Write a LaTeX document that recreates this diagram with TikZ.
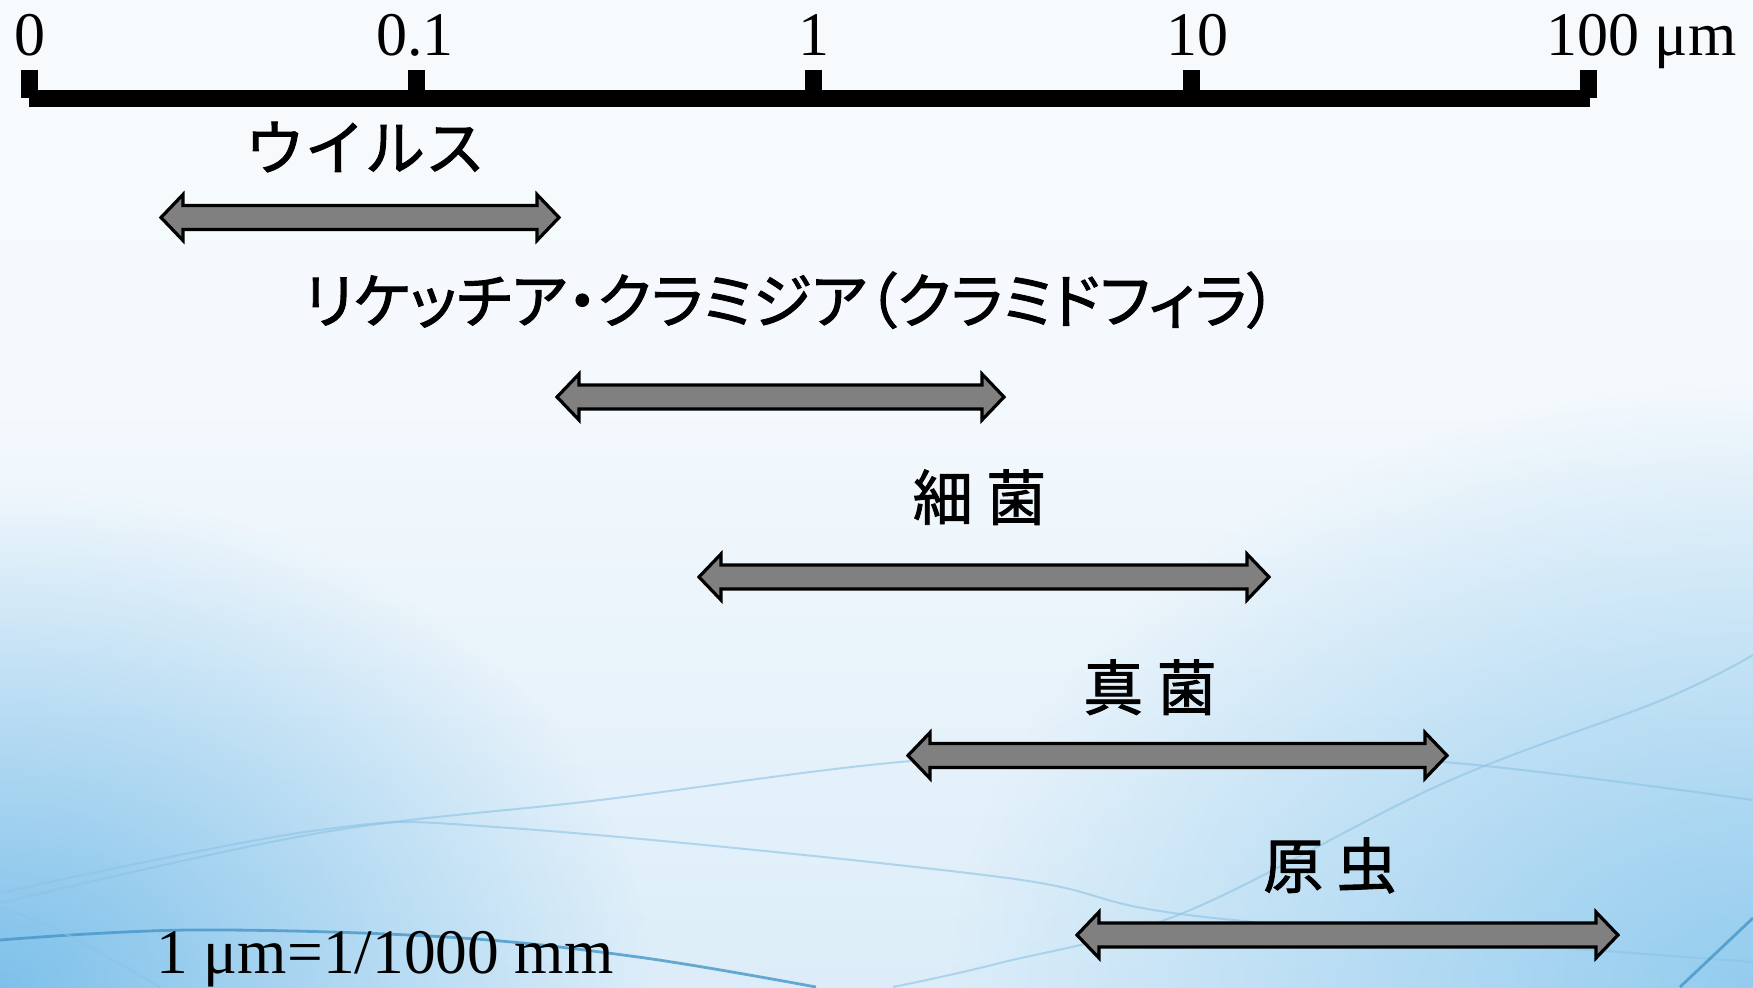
\documentclass[tikz,border=0pt]{standalone}
\usepackage{fontspec}
\setmainfont{Liberation Serif}
\newfontfamily\jp[RawFeature=+palt, FakeBold=1.5]{Noto Sans CJK JP}
\newfontfamily\jpf[FakeBold=1.5]{Noto Sans CJK JP}
\usetikzlibrary{fadings}
\definecolor{bgtop}{RGB}{250,252,254}
\definecolor{bglite}{RGB}{244,249,253}
\definecolor{bgmid}{RGB}{228,241,250}
\definecolor{bgbot}{RGB}{198,227,245}
\definecolor{blueL}{RGB}{110,185,232}
\definecolor{blueR}{RGB}{130,196,236}
\definecolor{curvelite}{RGB}{140,195,228}
\definecolor{curvedark}{RGB}{70,150,200}
\definecolor{arrgray}{RGB}{128,128,128}
\pgfdeclareverticalshading{bgshade}{100bp}{color(0bp)=(bgbot); color(35bp)=(bgmid); color(55bp)=(bglite); color(100bp)=(bgtop)}
\tikzfading[name=radfade, inner color=transparent!0, outer color=transparent!100]
\tikzset{
  arrowbox/.style={draw=black, fill=arrgray, line width=1.6pt, line join=miter},
  numlbl/.style={inner sep=0pt, anchor=base, font=\fontsize{31}{31}\selectfont},
  jplbl/.style={inner sep=0pt, anchor=base, font=\fontsize{30}{30}\selectfont\jp},
  lite/.style={draw=curvelite, line width=1pt, opacity=0.6},
  dark/.style={draw=curvedark, line width=1.4pt, opacity=0.8},
}
\newcommand{\dblarr}[4]{%
  \pgfmathsetmacro{\arrlen}{#3-#2-44}%
  \draw[arrowbox] (#2,#4) coordinate (#1-l) -- ++(22,-23) -- ++(0,11) -- ++(\arrlen,0) -- ++(0,-11) -- ++(22,23) coordinate (#1-r) -- ++(-22,23) -- ++(0,-11) -- ++(-\arrlen,0) -- ++(0,11) -- cycle;%
}
\begin{document}
\begin{tikzpicture}[x=0.5pt, y=-0.5pt]
\useasboundingbox (0,0) rectangle (1753,987);
% background
\begin{scope}
\clip (0,0) rectangle (1753,987);
\shade[shading=bgshade] (0,0) rectangle (1753,987);
\fill[blueL, path fading=radfade, fill opacity=0.85] (0,987) ellipse [x radius=650, y radius=500];
\fill[blueR, path fading=radfade, fill opacity=0.8] (1753,987) ellipse [x radius=800, y radius=600];
% decorative curves
\draw[lite] plot[smooth, tension=0.6] coordinates {(0,893) (319,830) (510,828) (1000,877) (1205,917) (1753,962)};
\draw[lite] plot[smooth, tension=0.6] coordinates {(0,903) (319,833) (600,800) (900,762) (1150,750) (1444,762) (1753,800)};
\draw[dark] plot[smooth, tension=0.6] coordinates {(0,940) (191,930) (446,937) (638,957) (816,987)};
\draw[lite] plot[smooth, tension=0.6] coordinates {(0,907) (64,933) (160,987)};
\draw[lite] plot[smooth, tension=0.6] coordinates {(893,987) (1000,963) (1183,913) (1444,783) (1662,700) (1753,655)};
\draw[dark] plot[smooth, tension=0.6] coordinates {(1680,987) (1753,918)};
\end{scope}
% axis
\draw[line width=8.5pt] (29,98.5) -- (1590,98.5);
\foreach \tx in {29.5,416.5,813.5,1191.5,1588.5} {\fill (\tx-8.5,70) rectangle (\tx+8.5,98);}
\node[numlbl] (n0) at (29.5,55) {0};
\node[numlbl] (n01) at (415,55) {0.1};
\node[numlbl] (n1) at (813.5,55) {1};
\node[numlbl] (n10) at (1197,55) {10};
\node[numlbl, anchor=base west] (n100) at (1546,55) {100 μm};
% arrows
\dblarr{a1}{161}{559}{217.5}
\dblarr{a2}{557}{1004}{397}
\dblarr{a3}{699}{1269}{577}
\dblarr{a4}{908}{1447}{755.5}
\dblarr{a5}{1077}{1618}{935}
% labels
\node[jplbl, font=\fontsize{30}{30}\selectfont\jpf] (virus) at (365,170) {ウイルス};
\node[jplbl] (rick) at (790.5,323) {リケッチア・クラミジア（クラミドフィラ）};
\node[jplbl] (bact) at (979.5,520) {細 菌};
\node[jplbl] (fungi) at (1150,710) {真 菌};
\node[jplbl] (proto) at (1330,888) {原 虫};
\node[numlbl, anchor=base west, font=\fontsize{31.7}{31.7}\selectfont] (unit) at (156,973) {1 μm=1/1000 mm};
\end{tikzpicture}
\end{document}
